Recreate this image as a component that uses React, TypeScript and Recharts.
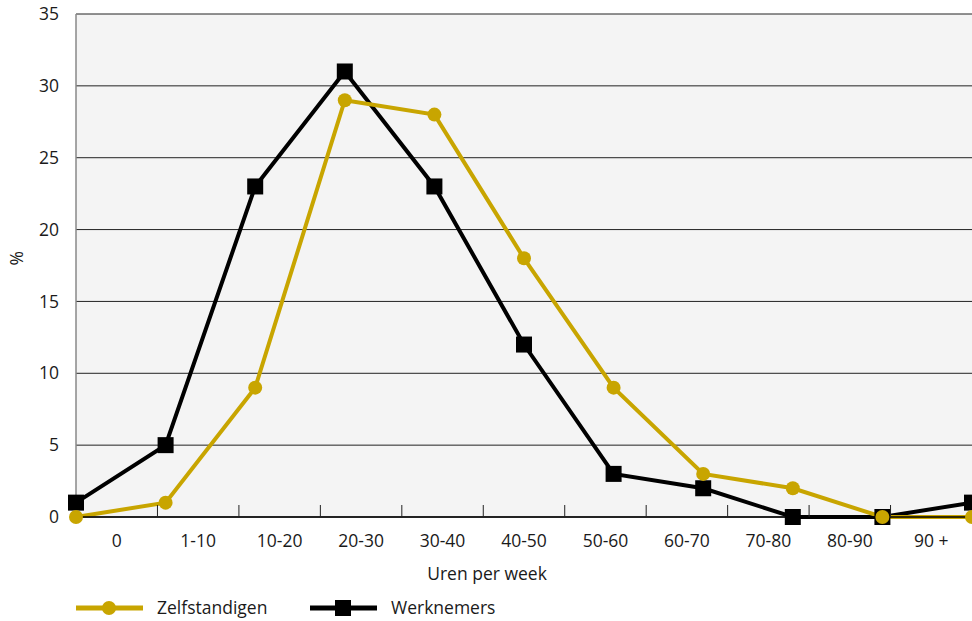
import React from "react";
import {
  LineChart,
  Line,
  XAxis,
  YAxis,
  CartesianGrid,
  Legend,
} from "recharts";

const categories = ["0", "1-10", "10-20", "20-30", "30-40", "40-50", "50-60", "60-70", "70-80", "80-90", "90 +"];
const zelfstandigen = [0, 1, 9, 29, 28, 18, 9, 3, 2, 0, 0];
const werknemers = [1, 5, 23, 31, 23, 12, 3, 2, 0, 0, 1];
const yTicks = [0, 5, 10, 15, 20, 25, 30, 35];

const GOLD = "#C8A500";
const FONT = "'Open Sans', 'Noto Sans', sans-serif";
const FS = 17.5;

const data = categories.map((label, i) => ({
  idx: i,
  label,
  zelf: zelfstandigen[i],
  werk: werknemers[i],
}));

// the labels sit in 11 equal bands spread over the same width as the 11 points
const last = categories.length - 1;
const bandUnit = last / categories.length;
const catTicks: number[] = [];
for (let i = 0; i < categories.length; i++) {
  catTicks.push((i + 0.5) * bandUnit);
  if (i > 0) catTicks.push(i * bandUnit);
}

const CatTick = ({ x, y, payload }: any) => {
  const k = payload.value / bandUnit;
  if (Math.abs(k - Math.round(k)) < 0.01) {
    return <line x1={x} x2={x} y1={y - 12} y2={y} stroke="#222" strokeWidth={1} />;
  }
  const label = categories[Math.floor(k)];
  return (
    <text x={x} y={y + 30} textAnchor="middle" fontSize={FS} fill="#1a1a1a" fontFamily={FONT}>
      {label}
    </text>
  );
};

const SquareDot = ({ cx, cy }: any) => (
  <rect x={cx - 8} y={cy - 8} width={16} height={16} fill="#000" />
);

const CircleDot = ({ cx, cy }: any) => <circle cx={cx} cy={cy} r={7} fill={GOLD} />;

const LegendContent = () => (
  <svg width={500} height={30}>
    <line x1={0} x2={67} y1={15} y2={15} stroke={GOLD} strokeWidth={5} />
    <circle cx={33} cy={15} r={7} fill={GOLD} />
    <text x={81} y={21} fontSize={FS} fill="#1a1a1a" fontFamily={FONT}>Zelfstandigen</text>
    <line x1={234} x2={301} y1={15} y2={15} stroke="#000" strokeWidth={5} />
    <rect x={259} y={7} width={16} height={16} fill="#000" />
    <text x={315} y={21} fontSize={FS} fill="#1a1a1a" fontFamily={FONT}>Werknemers</text>
  </svg>
);

export default function App() {
  return (
    <div style={{ position: "absolute", left: 0, top: 0 }}>
      <LineChart
        width={972}
        height={621}
        data={data}
        margin={{ top: 14, right: 0, left: 0, bottom: 0 }}
        style={{ fontFamily: FONT }}
      >
        <CartesianGrid horizontal vertical={false} stroke="#222" fill="#f4f4f4" />
        <XAxis xAxisId="pts" dataKey="idx" type="number" domain={[0, last]} hide />
        <XAxis
          xAxisId="cat"
          dataKey="idx"
          type="number"
          domain={[0, last]}
          ticks={catTicks}
          interval={0}
          height={104}
          tickSize={0}
          tickMargin={0}
          tick={<CatTick />}
          axisLine={{ stroke: "#000", strokeWidth: 1.5 }}
          tickLine={false}
          label={{
            value: "Uren per week",
            position: "insideTop",
            dx: -37,
            dy: 46,
            fontSize: FS,
            fill: "#1a1a1a",
          }}
        />
        <YAxis
          domain={[0, 35]}
          ticks={yTicks}
          width={76}
          tickSize={0}
          tickMargin={17}
          tickLine={false}
          axisLine={{ stroke: "#888", strokeWidth: 1.5 }}
          tick={{ fontSize: FS, fill: "#1a1a1a" }}
          label={{ value: "%", angle: -90, position: "insideLeft", dx: 12, fontSize: FS, fill: "#1a1a1a" }}
        />
        <Legend
          layout="horizontal"
          verticalAlign="middle"
          align="center"
          content={<LegendContent />}
          wrapperStyle={{ left: 76, top: 593, width: 500 }}
        />
        <Line
          xAxisId="pts"
          type="linear"
          dataKey="werk"
          name="Werknemers"
          stroke="#000"
          strokeWidth={4}
          dot={<SquareDot />}
          activeDot={false}
          isAnimationActive={false}
        />
        <Line
          xAxisId="pts"
          type="linear"
          dataKey="zelf"
          name="Zelfstandigen"
          stroke={GOLD}
          strokeWidth={4}
          dot={<CircleDot />}
          activeDot={false}
          isAnimationActive={false}
        />
      </LineChart>
    </div>
  );
}
